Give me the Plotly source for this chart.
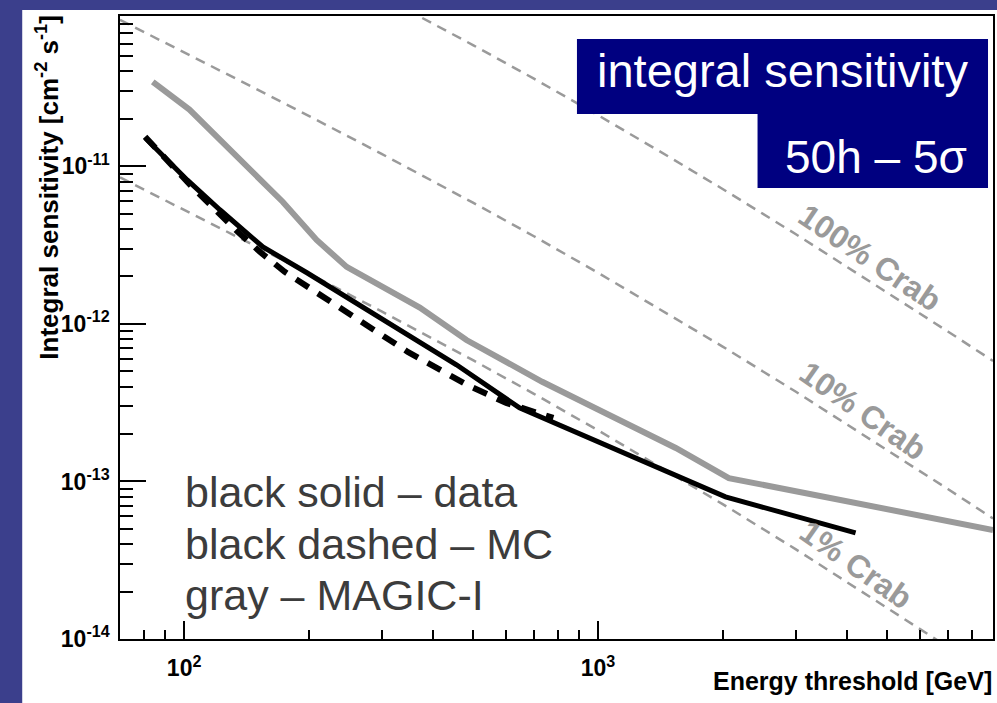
import plotly.graph_objects as go

# ---------------- data ----------------
crab_energy = [70, 100, 150, 200, 300, 500, 700, 1000, 1500, 2000, 3000, 5000, 7000, 9000]
crab_100 = [8.5e-10, 5.3e-10, 3.08e-10, 2.09e-10, 1.20e-10, 5.86e-11, 3.60e-11, 2.11e-11,
            1.13e-11, 7.18e-12, 3.72e-12, 1.58e-12, 8.95e-13, 5.82e-13]
crab_10 = [8.5e-11, 5.3e-11, 3.08e-11, 2.09e-11, 1.20e-11, 5.86e-12, 3.60e-12, 2.11e-12,
           1.13e-12, 7.18e-13, 3.72e-13, 1.58e-13, 8.95e-14, 5.82e-14]
crab_1 = [8.5e-12, 5.3e-12, 3.08e-12, 2.09e-12, 1.20e-12, 5.86e-13, 3.60e-13, 2.11e-13,
          1.13e-13, 7.18e-14, 3.72e-14, 1.58e-14, 8.95e-15, 5.82e-15]

magic1_energy = [84, 103, 173, 209, 247, 371, 481, 733, 1000, 1541, 2070, 9000]
magic1_sens = [3.44e-11, 2.29e-11, 5.96e-12, 3.41e-12, 2.30e-12, 1.27e-12, 7.9e-13, 4.29e-13,
               2.86e-13, 1.63e-13, 1.05e-13, 4.92e-14]

data_energy = [80.5, 101.7, 122, 155, 198, 371, 455, 646, 1081, 2032, 4190]
data_sens = [1.52e-11, 8.2e-12, 5.3e-12, 3.08e-12, 2.11e-12, 7.57e-13, 5.5e-13, 2.93e-13,
             1.63e-13, 7.98e-14, 4.71e-14]

mc_energy = [80.5, 104.5, 134, 152.6, 175, 313, 347, 489, 600, 780]
mc_sens = [1.54e-11, 7.41e-12, 3.89e-12, 2.86e-12, 2.14e-12, 8.03e-13, 6.64e-13, 4.03e-13,
           3.15e-13, 2.53e-13]

x_major = [100, 1000]
x_major_text = ["10<sup>2</sup>", "10<sup>3</sup>"]
x_minor = [80, 90, 200, 300, 400, 500, 600, 700, 800, 900, 2000, 3000, 4000, 5000, 6000, 7000, 8000, 9000]
y_major = [1e-14, 1e-13, 1e-12, 1e-11]
y_major_text = ["10<sup>-14</sup>", "10<sup>-13</sup>", "10<sup>-12</sup>", "10<sup>-11</sup>"]
y_minor = [m * 10.0 ** e for e in (-14, -13, -12, -11) for m in range(2, 10)]

legend_lines = ["black solid \u2013 data", "black dashed \u2013 MC", "gray \u2013 MAGIC-I"]

# ---------------- figure ----------------
W, H = 997, 703
L, R, T, B = 120, 2, 16, 64
PW, PH = W - L - R, H - T - B


def px(x):
    return (x - L) / PW


def py(y):
    return (H - B - y) / PH


GRAY = "#9a9a9a"
fig = go.Figure()

for vals in (crab_100, crab_10, crab_1):
    fig.add_trace(go.Scatter(x=crab_energy, y=vals, mode="lines",
                             line=dict(color=GRAY, width=2.5, dash="10px,7px"),
                             hoverinfo="skip"))

fig.add_trace(go.Scatter(x=magic1_energy, y=magic1_sens, mode="lines",
                         line=dict(color=GRAY, width=6)))
fig.add_trace(go.Scatter(x=mc_energy, y=mc_sens, mode="lines",
                         line=dict(color="black", width=6, dash="15px,11px")))
fig.add_trace(go.Scatter(x=data_energy, y=data_sens, mode="lines",
                         line=dict(color="black", width=5)))

FONT = "Liberation Sans, Arial, Helvetica, sans-serif"

fig.update_layout(
    width=W, height=H,
    margin=dict(l=L, r=R, t=T, b=B),
    paper_bgcolor="#3b3f8c",
    plot_bgcolor="white",
    showlegend=False,
    font=dict(family=FONT, color="black"),
    xaxis=dict(type="log", range=[1.8451, 3.9542],
               tickmode="array", tickvals=x_major, ticktext=x_major_text,
               ticks="inside", ticklen=18, tickwidth=1.5, tickcolor="black",
               minor=dict(tickmode="array", tickvals=x_minor, ticks="inside",
                          ticklen=9, tickwidth=1.5, tickcolor="black", showgrid=False),
               showline=True, linecolor="black", linewidth=1.5, mirror=True,
               showgrid=False, zeroline=False,
               tickfont=dict(size=23, family=FONT, weight="bold"),
               ticklabelstandoff=8),
    yaxis=dict(type="log", range=[-14, -10.046],
               tickmode="array", tickvals=y_major, ticktext=y_major_text,
               ticks="inside", ticklen=26, tickwidth=1.5, tickcolor="black",
               minor=dict(tickmode="array", tickvals=y_minor, ticks="inside",
                          ticklen=13, tickwidth=1.5, tickcolor="black", showgrid=False),
               showline=True, linecolor="black", linewidth=1.5, mirror=True,
               showgrid=False, zeroline=False,
               tickfont=dict(size=23, family=FONT, weight="bold"),
               ticklabelstandoff=4),
)

shapes = [
    # white panel
    dict(type="rect", xref="paper", yref="paper", layer="below",
         x0=px(22), x1=px(1005), y0=py(710), y1=py(10),
         fillcolor="white", line=dict(width=0)),
    # title boxes
    dict(type="rect", xref="paper", yref="paper",
         x0=px(578), x1=px(990), y0=py(114), y1=py(39),
         fillcolor="#000080", line=dict(width=0)),
    dict(type="rect", xref="paper", yref="paper",
         x0=px(759), x1=px(990), y0=py(188), y1=py(113),
         fillcolor="#000080", line=dict(width=0)),
]
fig.update_layout(shapes=shapes)

ann = []
ann.append(dict(text="integral sensitivity", x=px(784.5), y=py(70.5), xref="paper", yref="paper",
                showarrow=False, xanchor="center", yanchor="middle",
                font=dict(size=47, color="white", family=FONT)))
ann.append(dict(text="50h \u2013 5\u03c3", x=px(878), y=py(157), xref="paper", yref="paper",
                showarrow=False, xanchor="center", yanchor="middle",
                font=dict(size=46, color="white", family=FONT)))

for txt, cx, cy, ang in (("100% Crab", 872, 258, 34), ("10% Crab", 865, 411, 35), ("1% Crab", 858, 565, 35)):
    ann.append(dict(text=txt, x=px(cx), y=py(cy), xref="paper", yref="paper",
                    showarrow=False, xanchor="center", yanchor="middle", textangle=ang,
                    font=dict(size=32, color=GRAY, family=FONT, weight="bold")))

for i, line in enumerate(legend_lines):
    baseline = 507 + i * 51.5
    ann.append(dict(text=line, x=px(183), y=py(baseline - 15), xref="paper", yref="paper",
                    showarrow=False, xanchor="left", yanchor="middle",
                    font=dict(size=43, color="#3c3c3c", family=FONT)))

ann.append(dict(text="Energy threshold [GeV]", x=px(996), y=py(681), xref="paper", yref="paper",
                showarrow=False, xanchor="right", yanchor="middle",
                font=dict(size=25, color="black", family=FONT, weight="bold")))
ann.append(dict(text="Integral sensitivity [cm<sup>-2</sup> s<sup>-1</sup>]", x=px(46.5), y=py(14),
                xref="paper", yref="paper", showarrow=False, textangle=-90,
                xanchor="center", yanchor="top",
                font=dict(size=26, color="black", family=FONT, weight="bold")))
fig.update_layout(annotations=ann)

fig.write_html("out.html", config={"displayModeBar": False},
               post_script="document.body.style.margin='0';document.body.style.overflow='hidden';")
